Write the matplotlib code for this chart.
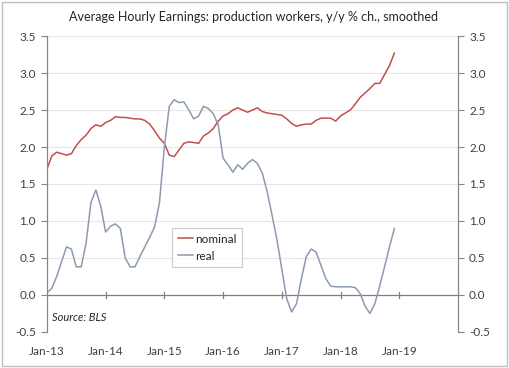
import numpy as np
import matplotlib
matplotlib.use("Agg")
import matplotlib.pyplot as plt
from matplotlib.patches import Rectangle

plt.rcParams['font.family'] = ['Lato', 'DejaVu Sans']

# monthly data, Jan-13 .. Dec-18
nominal = [1.70, 1.88, 1.93, 1.91, 1.89, 1.91, 2.02, 2.10, 2.16, 2.25, 2.30, 2.28,
           2.33, 2.36, 2.41, 2.40, 2.40, 2.39, 2.38, 2.38, 2.36, 2.31, 2.22, 2.12,
           2.05, 1.89, 1.87, 1.96, 2.05, 2.07, 2.06, 2.05, 2.15, 2.19, 2.25, 2.35,
           2.42, 2.45, 2.50, 2.53, 2.50, 2.47, 2.50, 2.53, 2.48, 2.46, 2.45, 2.44,
           2.43, 2.38, 2.32, 2.28, 2.30, 2.31, 2.31, 2.36, 2.39, 2.39, 2.39, 2.35,
           2.42, 2.46, 2.50, 2.58, 2.67, 2.73, 2.79, 2.86, 2.86, 2.98, 3.10, 3.27]
real = [0.03, 0.09, 0.25, 0.45, 0.65, 0.62, 0.38, 0.38, 0.70, 1.25, 1.42, 1.20,
        0.85, 0.93, 0.96, 0.90, 0.50, 0.38, 0.38, 0.52, 0.65, 0.78, 0.92, 1.25,
        2.00, 2.55, 2.64, 2.60, 2.61, 2.50, 2.38, 2.42, 2.55, 2.52, 2.45, 2.30,
        1.85, 1.76, 1.66, 1.76, 1.70, 1.78, 1.83, 1.78, 1.65, 1.40, 1.08, 0.75,
        0.35, -0.05, -0.23, -0.12, 0.22, 0.52, 0.62, 0.58, 0.40, 0.22, 0.12, 0.11,
        0.11, 0.11, 0.11, 0.10, 0.02, -0.15, -0.25, -0.12, 0.12, 0.38, 0.65, 0.90]
year_labels = ["Jan-13", "Jan-14", "Jan-15", "Jan-16", "Jan-17", "Jan-18", "Jan-19"]
yticks = [-0.5, 0.0, 0.5, 1.0, 1.5, 2.0, 2.5, 3.0, 3.5]

months = np.arange(len(nominal))
red = "#C0504D"
grey = "#8C9BAF"
axcol = "#868686"

fig = plt.figure(figsize=(5.1, 3.68), dpi=100)
fig.patches.append(Rectangle((0.004, 0.005), 0.99, 0.99, transform=fig.transFigure,
                             fill=False, edgecolor="#BFBFBF", linewidth=1.0))
ax = fig.add_axes([0.092, 0.098, 0.806, 0.804])

for y in yticks[1:]:
    ax.axhline(y, color="#E6E6E6", linewidth=0.8, zorder=0)
ax.axhline(-0.5, color="#E6E6E6", linewidth=0.8, zorder=0)

ax.plot(months, nominal, color=red, linewidth=1.1, label="nominal", zorder=3)
ax.plot(months, real, color=grey, linewidth=1.1, label="real", zorder=3)

# x axis line at zero with cross ticks
ax.axhline(0, color="#7F7F7F", linewidth=0.9, zorder=2)
tick_pos = np.arange(len(year_labels)) * 12
for t in tick_pos[1:]:
    ax.plot([t, t], [-0.035, 0.035], color="#7F7F7F", linewidth=0.9, zorder=2)

ax.set_xlim(0, 84)
ax.set_ylim(-0.5, 3.5)
ax.set_xticks(tick_pos)
ax.set_xticklabels(year_labels)
ax.tick_params(axis='x', length=0, pad=10, labelsize=8.5, colors="#404040")

ax.set_yticks(yticks)
ax.set_yticklabels(["%.1f" % v for v in yticks])
ax.tick_params(axis='y', length=4, width=0.8, color=axcol, labelsize=8.5,
               labelcolor="#404040", pad=4, direction='out')

ax2 = ax.twinx()
ax2.set_ylim(-0.5, 3.5)
ax2.set_yticks(yticks)
ax2.set_yticklabels(["%.1f" % v for v in yticks])
ax2.tick_params(axis='y', length=4, width=0.8, color=axcol, labelsize=8.5,
                labelcolor="#404040", pad=4)

for a in (ax, ax2):
    a.spines['top'].set_visible(False)
    a.spines['bottom'].set_visible(False)
    a.spines['left'].set_color(axcol)
    a.spines['right'].set_color(axcol)
    a.spines['left'].set_linewidth(0.8)
    a.spines['right'].set_linewidth(0.8)

leg = ax.legend(loc='lower left', bbox_to_anchor=(0.305, 0.22), fontsize=8.5,
                frameon=True, fancybox=False, handlelength=1.3, handletextpad=0.2,
                borderpad=0.45, labelspacing=0.5, borderaxespad=0)
leg.get_frame().set_edgecolor("#BFBFBF")
leg.get_frame().set_linewidth(0.8)
for txt in leg.get_texts():
    txt.set_color("#262626")

ax.text(0.013, 0.03, "Source: BLS", transform=ax.transAxes, fontsize=8,
        style='italic', color="#262626", va='bottom')

fig.text(0.497, 0.953, "Average Hourly Earnings: production workers, y/y % ch., smoothed",
         ha='center', va='center', fontsize=9, color="#262626")

fig.savefig("out.png", dpi=100)
